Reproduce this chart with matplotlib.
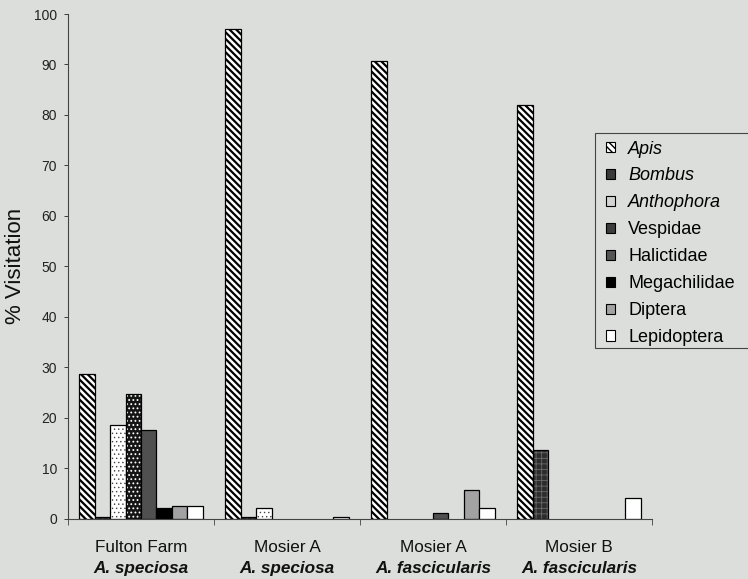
import matplotlib
matplotlib.use('Agg')
import matplotlib.pyplot as plt
from matplotlib.patches import Patch, Rectangle
import numpy as np

sites = ['Fulton Farm', 'Mosier A', 'Mosier A', 'Mosier B']
species = ['A. speciosa', 'A. speciosa', 'A. fascicularis', 'A. fascicularis']

taxa = ['Apis', 'Bombus', 'Anthophora', 'Vespidae', 'Halictidae',
        'Megachilidae', 'Diptera', 'Lepidoptera']
apis = [28.7, 97.0, 90.6, 82.0]
bombus = [0.2, 0.2, 0.0, 13.5]
anthophora = [18.6, 2.0, 0.0, 0.0]
vespidae = [24.7, 0.0, 0.0, 0.0]
halictidae = [17.6, 0.0, 1.0, 0.0]
megachilidae = [2.1, 0.0, 0.0, 0.0]
diptera = [2.4, 0.0, 5.6, 0.0]
lepidoptera = [2.5, 0.3, 2.1, 4.0]
series = [apis, bombus, anthophora, vespidae, halictidae,
          megachilidae, diptera, lepidoptera]
italic_taxa = ['Apis', 'Bombus', 'Anthophora']

bg = '#dcdedb'
# face, hatch, hatch colour, hatch linewidth, legend face
styles = [
    ('white', '\\' * 5, 'black', 1.6, 'white'),
    ('#2c2c2c', '+++', '#6a6a6a', 0.6, '#3a3a3a'),
    ('white', '....', '#444444', 0.5, '#d4d4d4'),
    ('#151515', '....', 'white', 0.8, '#3c3c3c'),
    ('#505050', '', None, 0.5, '#555555'),
    ('black', '', None, 0.5, 'black'),
    ('#a2a2a2', '', None, 0.5, '#a2a2a2'),
    ('white', '', None, 0.5, 'white'),
]

plt.rcParams['font.family'] = ['Liberation Sans', 'DejaVu Sans']

W, H = 748, 579
fig = plt.figure(figsize=(W / 100, H / 100), dpi=100, facecolor=bg)
ax = fig.add_axes([68 / W, 1 - 518.5 / H, 584 / W, 504.5 / H])
ax.set_facecolor(bg)

x = np.arange(len(sites))
w = 0.106
handles = []
for i, (vals, (fc, hatch, hc, hlw, lfc)) in enumerate(zip(series, styles)):
    pos = x - 4 * w + (i + 0.5) * w
    vals = np.array(vals)
    keep = vals > 0
    if hatch:
        with plt.rc_context({'hatch.linewidth': hlw}):
            b = ax.bar(pos[keep], vals[keep], width=w, color=fc,
                       edgecolor=hc, hatch=hatch, linewidth=0)
            for p in b:
                if hasattr(p, 'set_hatch_linewidth'):
                    p.set_hatch_linewidth(hlw)
    else:
        ax.bar(pos[keep], vals[keep], width=w, color=fc, linewidth=0)
    ax.bar(pos[keep], vals[keep], width=w, fill=False,
           edgecolor='black', linewidth=0.9)
    handles.append(Patch(facecolor=lfc, edgecolor='black', linewidth=0.8,
                         hatch=hatch if hc == 'black' else ''))

ax.set_xlim(-0.5, len(sites) - 0.5)
ax.set_ylim(0, 100)
ax.set_yticks(np.arange(0, 101, 10))
ax.tick_params(axis='y', labelsize=10, length=3, width=0.6, pad=5, colors='#222222')
ax.set_xticks(np.arange(-0.5, len(sites), 1))
ax.set_xticklabels([])
ax.tick_params(axis='x', length=4, width=0.6, direction='out', colors='#444444')
for s in ['top', 'right']:
    ax.spines[s].set_visible(False)
ax.spines['left'].set_color('#444444')
ax.spines['bottom'].set_color('#444444')
ax.spines['left'].set_linewidth(0.8)
ax.spines['bottom'].set_linewidth(0.8)

for xi, site, sp in zip(x, sites, species):
    ax.text(xi, -0.058, site, transform=ax.get_xaxis_transform(),
            ha='center', va='center', fontsize=12.3, color='#111111')
    ax.text(xi, -0.1, sp, transform=ax.get_xaxis_transform(),
            ha='center', va='center', fontsize=12.3, fontstyle='italic',
            fontweight='bold', color='#111111')

fig.text(0.021, 0.54, '% Visitation', rotation=90, ha='center', va='center',
         fontsize=16, color='#111111')

# legend frame drawn by hand, the box reaches the right edge
fig.patches.append(Rectangle((595 / W, 1 - 348 / H), 160 / W, 215 / H,
                             transform=fig.transFigure, facecolor=bg,
                             edgecolor='#444444', linewidth=0.8, zorder=1))
leg = fig.legend(handles, taxa, loc='upper left',
                 bbox_to_anchor=(606 / W, 1 - 140.5 / H),
                 borderaxespad=0, fontsize=13, frameon=False,
                 handlelength=0.5, handleheight=0.5, handletextpad=0.72,
                 labelspacing=0.55, borderpad=0.0)
for t in leg.get_texts():
    if t.get_text() in italic_taxa:
        t.set_fontstyle('italic')

fig.savefig('out.png', dpi=100, facecolor=bg)
